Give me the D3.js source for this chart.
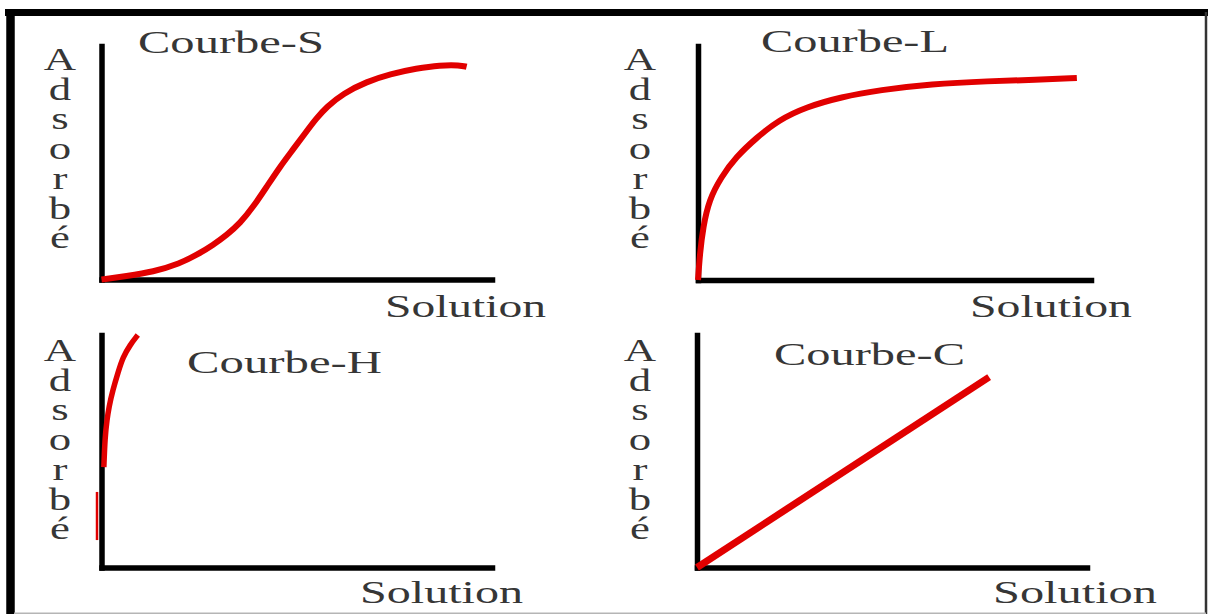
<!DOCTYPE html>
<html lang="fr">
<head>
    <meta charset="UTF-8">
    <script src="https://d3js.org/d3.v7.min.js"></script>
    <style>
        body { margin: 0; background: #fff; }
        .label { font-family: "Liberation Serif", "DejaVu Serif", serif; font-size: 32px; fill: #363636; }
        .axis .domain { stroke: #000; stroke-width: 5.5px; stroke-linecap: square; }
        .curve { fill: none; stroke: #e10000; stroke-linejoin: round; }
    </style>
    <title>Isothermes d'adsorption</title>
</head>
<body>
    <svg id="chart" width="1210" height="614"></svg>
    <script>
        // texts
        const panelTitles = ["Courbe-S", "Courbe-L", "Courbe-H", "Courbe-C"];
        const yLabelLetters = ["A", "d", "s", "o", "r", "b", "é"];
        const xLabel = "Solution";

        // curves (0-100 on each axis)
        const sCurve = [[0,0],[6.3,1.5],[13.2,3.2],[20.1,6.9],[24.4,10.5],[28.6,14.8],[32.1,19.1],[35.5,24.1],
                        [38.9,31.2],[42.3,39.7],[45.7,48.3],[49.1,55.8],[52.2,62.8],[55,69],[57.7,74],[61.9,79.7],
                        [67.9,84.7],[73.9,88],[80.7,90.4],[86.7,91.8],[91.8,91.8],[93.5,91.1]];
        const lCurve = [[0,0],[0.5,11.5],[1.3,22.6],[2.8,34.2],[5.9,44],[9.7,52.6],[14.8,60.7],[20.6,68.4],
                        [27.5,73.9],[36.4,78.2],[46.3,81.2],[59.3,83.8],[74,85],[86,85.5],[96.4,86.3]];
        const hCurve = [[0.6,43.2],[0.9,56.1],[1.4,63.4],[1.9,69],[2.9,76.3],[4.2,83.7],[5.5,90.5],[7.3,95.7],[9.3,100]];
        const hStub = [[-1.15,32.5],[-1.15,11.8]];
        const cLine = [[0,0],[74.9,81.9]];

        // layout of the four panels
        const panels = [
            { x0: 101.5, x1: 492,  y0: 279.5, y1: 46,  lettersX: 60,  lettersY: 70,  titleX: 138, titleY: 53,  titleW: 186, solX: 385, solY: 317, solW: 161,
              series: [{ data: sCurve, w: 6 }] },
            { x0: 698,   x1: 1091, y0: 280,   y1: 46,  lettersX: 640, lettersY: 70,  titleX: 761, titleY: 52,  titleW: 188, solX: 970, solY: 317, solW: 162,
              series: [{ data: lCurve, w: 6 }] },
            { x0: 101.5, x1: 492,  y0: 567.5, y1: 335, lettersX: 60,  lettersY: 361, titleX: 187, titleY: 373, titleW: 195, solX: 360, solY: 603, solW: 163,
              series: [{ data: hCurve, w: 5.5 }, { data: hStub, w: 2.5 }] },
            { x0: 697,   x1: 1087, y0: 567.5, y1: 335, lettersX: 640, lettersY: 361, titleX: 774, titleY: 365, titleW: 191, solX: 993, solY: 603, solW: 164,
              series: [{ data: cLine, w: 7 }] }
        ];

        const svg = d3.select("#chart");

        // frame
        svg.append("line").attr("x1", 5).attr("x2", 1208).attr("y1", 12.5).attr("y2", 12.5)
            .attr("stroke", "#000").attr("stroke-width", 7);
        svg.append("line").attr("x1", 10.5).attr("x2", 10.5).attr("y1", 9).attr("y2", 614)
            .attr("stroke", "#000").attr("stroke-width", 8.5);
        svg.append("line").attr("x1", 1206).attr("x2", 1206).attr("y1", 12).attr("y2", 614)
            .attr("stroke", "#333").attr("stroke-width", 2.5);
        svg.append("line").attr("x1", 14).attr("x2", 1206).attr("y1", 613.2).attr("y2", 613.2)
            .attr("stroke", "#b5b5b5").attr("stroke-width", 1.5);

        panels.forEach((p, i) => {
            const x = d3.scaleLinear().domain([0, 100]).range([p.x0, p.x1]);
            const y = d3.scaleLinear().domain([0, 100]).range([p.y0, p.y1]);

            // axes without ticks
            svg.append("g").attr("class", "axis")
                .attr("transform", "translate(0," + p.y0 + ")")
                .call(d3.axisBottom(x).ticks(0).tickSizeOuter(0));
            svg.append("g").attr("class", "axis")
                .attr("transform", "translate(" + p.x0 + ",0)")
                .call(d3.axisLeft(y).ticks(0).tickSizeOuter(0));

            p.series.forEach(s => {
                // b-spline smooths out reading noise in the hand-read points
                const line = d3.line().x(d => x(d[0])).y(d => y(d[1])).curve(d3.curveBasis);
                svg.append("path").datum(s.data)
                    .attr("class", "curve")
                    .attr("stroke-width", s.w)
                    .attr("d", line);
            });

            // vertical "Adsorbé" label, one letter per row
            svg.selectAll(null).data(yLabelLetters).enter().append("text")
                .attr("class", "label")
                .attr("text-anchor", "middle")
                .attr("transform", (d, j) => "translate(" + p.lettersX + "," + (p.lettersY + j * 29.7) + ") scale(1.4,1)")
                .text(d => d);

            svg.append("text")
                .attr("class", "label")
                .attr("x", p.titleX).attr("y", p.titleY)
                .attr("textLength", p.titleW).attr("lengthAdjust", "spacingAndGlyphs")
                .text(panelTitles[i]);

            svg.append("text")
                .attr("class", "label")
                .attr("x", p.solX).attr("y", p.solY)
                .attr("textLength", p.solW).attr("lengthAdjust", "spacingAndGlyphs")
                .text(xLabel);
        });
    </script>
</body>
</html>
